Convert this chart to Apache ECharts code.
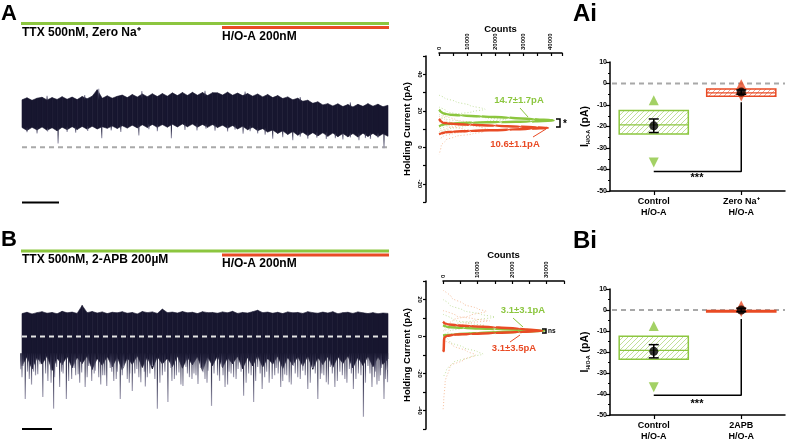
<!DOCTYPE html>
<html>
<head>
<meta charset="utf-8">
<title>H/O-A holding current</title>
<script src="https://cdn.jsdelivr.net/npm/echarts@6/dist/echarts.min.js"></script>
<style>
  html, body { margin: 0; padding: 0; background: #fff; }
  #fig { width: 787px; height: 442px; }
</style>
</head>
<body>
<div id="fig"></div>
<script>
// ---- trace A (pA), one value per column of the recording ----
const traceATop = [
  26.0, 27.1, 25.7, 26.9, 27.4, 25.9, 27.2, 26.2, 27.7, 26.3,
  27.5, 26.1, 27.8, 26.6, 28.0, 31.5, 26.8, 28.2, 26.9, 27.9,
  28.6, 27.2, 28.9, 27.5, 29.2, 27.7, 29.3, 27.8, 29.4, 28.0,
  29.8, 28.3, 30.0, 28.4, 30.1, 28.5, 30.0, 28.3, 29.9, 29.8,
  28.6, 30.2, 28.5, 29.7, 28.3, 29.4, 28.0, 29.2, 27.6, 28.9,
  27.2, 28.3, 26.7, 27.6, 26.0, 26.9, 25.2, 25.8, 24.1, 24.9,
  23.2, 23.9, 22.6, 23.8, 22.3, 23.4, 22.1, 23.5, 22.4, 23.9,
  22.5, 23.6, 22.2, 23.0
];
const traceABottom = [
  10.8, 9.2, 10.9, 9.5, 11.1, 9.3, 10.7, 9.0, 11.0, 9.6,
  11.3, 9.7, 11.4, 9.9, 11.5, 10.0, 11.2, 10.4, 11.6, 10.3,
  11.8, 10.5, 12.1, 10.6, 12.3, 10.8, 12.5, 10.9, 12.4, 11.0,
  12.6, 11.1, 12.8, 11.2, 12.7, 11.0, 12.5, 10.9, 12.4, 10.8,
  12.1, 10.4, 11.9, 10.0, 11.5, 9.6, 11.0, 9.1, 10.2, 8.3,
  9.5, 7.6, 9.0, 7.0, 8.6, 6.6, 8.2, 6.3, 8.0, 6.2,
  7.9, 6.0, 7.8, 5.8, 7.6, 5.7, 7.5, 5.6, 7.7, 5.9,
  7.6, 5.8, 7.4, 6.0
];
// [column, base, tip]
const traceASpikes = [
  [3.5, 11, 7.5], [7.7, 11, 2.0], [11.2, 11.5, 8.0], [16.4, 12, 4.9], [20.2, 12.5, 8.3],
  [23.8, 12.5, 6.5], [27.5, 13, 8.8], [30.3, 13, 4.9], [33, 13.5, 9.5], [35.4, 13.5, 9.2],
  [39, 13, 9.0], [41.5, 12.5, 8.6], [44.6, 12, 7.4], [47.5, 11, 7.5], [50.5, 10, 4.7],
  [52.5, 9.5, 5.5], [54.5, 9, 3.8], [57.5, 8.5, 4.6], [61.2, 8.5, 4.5], [64.5, 8, 4.2],
  [67.7, 8, 3.8], [70, 8, 4.5], [72.7, 8, -0.5],
  [1.5, 11, 8.2], [5.6, 11, 8.6], [9.5, 11.5, 8.4], [13.6, 12, 8.9], [18.3, 12, 9.2],
  [25.8, 13, 9.8], [37.2, 13, 10.2], [43, 12.5, 9.6], [46, 12, 8.8], [49, 10.5, 6.8],
  [56, 9, 5.8], [59.3, 8.5, 5.2], [63, 8, 5.0], [66, 8, 5.4], [69, 8, 5.0], [71.5, 8, 5.2],
  [15.8, 26, 32], [24.4, 27, 30.8], [5.5, 25.5, 28.2], [13, 26, 28.6], [37, 28, 31],
  [45, 28, 30.5], [56, 25, 27.6], [66, 22, 24.6]
];

// ---- trace B (pA) ----
const traceBTop = [
  12.4, 13.1, 12.2, 12.9, 13.4, 12.6, 13.0, 12.3, 13.6, 12.8,
  13.2, 12.5, 16.8, 12.9, 13.5, 12.7, 13.3, 12.4, 13.1, 12.8,
  13.4, 12.6, 13.0, 12.2, 13.5, 12.9, 13.3, 12.5, 14.8, 12.9,
  13.2, 12.7, 13.5, 12.8, 13.1, 12.4, 13.4, 12.9, 13.0, 12.6,
  13.3, 12.8, 13.6, 12.5, 13.0, 12.7, 13.4, 14.2, 12.9, 13.2,
  12.6, 13.1, 12.4, 13.3, 12.8, 13.0, 12.5, 13.4, 12.9, 12.6,
  13.2, 12.7, 13.4, 12.3, 12.9, 13.1, 12.5, 13.3, 12.8, 12.4,
  12.9, 12.3, 12.7, 12.5
];
const traceBBottom = [
  -15.8, -10.9, -17.6, -11.5, -14.9, -10.6, -18.3, -11.8, -15.2, -10.7,
  -16.9, -11.3, -14.6, -10.5, -17.8, -11.9, -15.5, -10.8, -16.4, -11.1,
  -18.0, -11.6, -15.0, -10.4, -16.7, -11.2, -17.5, -10.9, -14.8, -11.7,
  -16.2, -10.6, -17.1, -11.4, -15.3, -10.8, -18.6, -11.0, -15.7, -10.5,
  -16.8, -11.5, -14.7, -10.7, -17.4, -11.2, -15.9, -10.4, -16.5, -11.8,
  -14.9, -10.6, -17.2, -11.3, -15.4, -10.9, -16.0, -10.5, -17.7, -11.4,
  -15.1, -10.8, -16.6, -11.0, -14.5, -10.6, -17.0, -11.2, -15.6, -10.7,
  -16.3, -11.1, -15.0, -12.0
];
const traceBSpikes = [
  [0.26, -9, -17.7], [1.15, -9, -33.8], [1.96, -9, -23], [3.64, -9, -20.4], [4.65, -9, -32.7],
  [5.66, -9, -24], [6.8, -9, -39], [8.0, -9, -27.3], [9.35, -9, -33.8], [10.4, -9, -23],
  [11.7, -9, -20.4], [13.1, -9, -27.3], [14.4, -9, -24], [15.8, -9, -22], [17.4, -9, -26.8],
  [18.8, -9, -24], [20.1, -9, -33.8], [21.5, -9, -23], [22.5, -9, -29.5], [24.2, -9, -24.7],
  [25.5, -9, -22], [27.5, -9, -39], [29.6, -9, -35.4], [30.9, -9, -23], [32.6, -9, -26.8],
  [33.9, -9, -22], [35.6, -9, -25.7], [36.6, -9, -19.3], [37.0, -9, -23], [38.3, -9, -37.5],
  [41.0, -9, -27.3], [42.7, -9, -22], [44.7, -9, -32], [46.7, -9, -35.4], [48.4, -9, -28.4],
  [50.4, -9, -23], [52.1, -9, -27.3], [53.8, -9, -24.7], [55.5, -9, -22], [57.5, -9, -28.4],
  [59.5, -9, -33.8], [61.2, -9, -24.7], [62.9, -9, -27.3], [64.9, -9, -23], [66.6, -9, -28.4],
  [68.6, -9, -43.4], [70.3, -9, -27.3], [71.7, -9, -24], [72.7, -9, -33.8], [73.4, -9, -24.7],
  [0.7, -9, -16], [2.8, -9, -19], [4.1, -9, -15], [6.2, -9, -18], [7.4, -9, -16.5],
  [8.7, -9, -20], [10.9, -9, -17], [12.4, -9, -19.5], [13.8, -9, -16], [15.1, -9, -18.5],
  [16.6, -9, -21], [18.1, -9, -17], [19.5, -9, -19], [20.8, -9, -16.5], [22.0, -9, -20],
  [23.4, -9, -17.5], [24.9, -9, -19], [26.5, -9, -16], [28.5, -9, -21], [30.2, -9, -17],
  [31.8, -9, -19.5], [33.2, -9, -16.5], [34.8, -9, -20], [36.1, -9, -17], [37.6, -9, -18.5],
  [39.5, -9, -21], [40.3, -9, -16], [41.8, -9, -19], [43.6, -9, -17.5], [45.7, -9, -20],
  [47.5, -9, -16.5], [49.3, -9, -19], [51.2, -9, -17], [52.9, -9, -20.5], [54.6, -9, -16],
  [56.5, -9, -18.5], [58.5, -9, -17], [60.3, -9, -20], [62.0, -9, -16.5], [63.9, -9, -19],
  [65.8, -9, -17.5], [67.6, -9, -20], [69.5, -9, -16], [71.0, -9, -19], [72.2, -9, -17], [73.3, -9, -18],
  [0.5, -9, -22], [1.6, -9, -19], [2.4, -9, -26], [3.2, -9, -21], [5.2, -9, -20], [6.3, -9, -25],
  [7.0, -9, -22], [8.4, -9, -19], [9.8, -9, -24], [11.2, -9, -21], [12.0, -9, -25], [13.5, -9, -22],
  [14.9, -9, -20], [16.2, -9, -26], [17.0, -9, -21], [18.4, -9, -19], [19.3, -9, -23], [20.5, -9, -21],
  [21.9, -9, -25], [23.0, -9, -20], [23.8, -9, -22], [25.1, -9, -27], [26.0, -9, -20], [27.0, -9, -23],
  [28.0, -9, -25], [29.0, -9, -19], [30.4, -9, -24], [31.3, -9, -21], [32.2, -9, -26], [33.5, -9, -20],
  [34.4, -9, -23], [35.2, -9, -21], [37.4, -9, -25], [38.8, -9, -20], [39.9, -9, -24], [40.6, -9, -21],
  [41.5, -9, -26], [42.2, -9, -20], [43.2, -9, -23], [44.2, -9, -19], [45.2, -9, -25], [46.2, -9, -21],
  [47.1, -9, -24], [48.0, -9, -20], [48.9, -9, -22], [49.8, -9, -25], [50.9, -9, -21], [51.6, -9, -20],
  [52.5, -9, -24], [53.3, -9, -21], [54.2, -9, -26], [55.0, -9, -20], [56.0, -9, -23], [57.0, -9, -21],
  [58.0, -9, -25], [59.0, -9, -20], [60.0, -9, -23], [60.7, -9, -21], [61.6, -9, -26], [62.4, -9, -20],
  [63.4, -9, -24], [64.4, -9, -21], [65.3, -9, -25], [66.2, -9, -20], [67.1, -9, -23], [68.1, -9, -21],
  [69.0, -9, -25], [69.9, -9, -20], [70.8, -9, -22], [71.3, -9, -26], [72.0, -9, -21], [73.0, -9, -23]
];

// ---- holding-current histograms: [counts, pA] ----
const histAControl = [[0, 20.5], [400, 19.8], [1200, 18.8], [3000, 18.0], [8000, 17.4], [15000, 16.9],
  [25000, 16.2], [34000, 15.4], [41000, 14.7], [33000, 14.1], [22000, 13.8], [12000, 13.5],
  [5000, 13.1], [2000, 12.6], [700, 12.0], [0, 11.5]];
const histAHoa = [[0, 15.5], [400, 14.6], [1200, 13.6], [3000, 13.0], [11000, 12.3], [20000, 11.8],
  [29000, 11.3], [35000, 10.9], [39000, 10.6], [33000, 10.1], [25000, 9.7], [11000, 8.9],
  [5000, 8.5], [2000, 8.1], [700, 7.6], [0, 7.2]];
const histAControlCells = [
  [[0, 28.5], [2000, 27], [6000, 25], [11000, 23], [16500, 20.8], [12000, 19.5], [6000, 18], [2000, 16.5], [0, 15]],
  [[0, 22], [3000, 19.5], [9000, 17.5], [17000, 16], [24000, 15.2], [17000, 14.2], [8000, 13], [2500, 11.5], [0, 10]],
  [[0, 18], [2500, 15.5], [8000, 14], [13000, 12.6], [9000, 11.5], [3500, 10], [0, 8.5]]
];
const histAHoaCells = [
  [[0, 17], [2500, 14.5], [8000, 12.5], [15000, 11], [17500, 10], [11000, 8.8], [5000, 7.5], [1500, 6], [0, 4.5]],
  [[0, 14], [3000, 11.5], [9000, 9.8], [16000, 8.5], [12000, 7.3], [6000, 6], [2500, 4], [800, 1], [0, -4]],
  [[0, 20], [1500, 17.5], [6000, 15], [12000, 13.4], [8000, 12.2], [3000, 10.5], [0, 9]]
];
const histBControl = [[0, 6], [1000, 5.2], [6000, 4.6], [15000, 4.0], [24000, 3.5], [29500, 3.1],
  [22000, 2.6], [10000, 1.9], [3000, 1.2], [0, 0.5]];
const histBHoa = [[0, 8], [300, 7.3], [1200, 6.6], [4000, 6.0], [8000, 5.6], [15000, 5.0], [22000, 4.2],
  [28700, 3.1], [22000, 2.4], [15000, 1.9], [8000, 1.4], [3000, 0.9], [1000, 0.3], [400, -0.6],
  [300, -2], [250, -5], [200, -7.5], [0, -8.2]];
const histBControlCells = [
  [[0, 20], [2000, 17], [6000, 14], [11000, 12], [15000, 10.5], [10000, 9], [4000, 7], [1000, 5], [0, 3]],
  [[0, 1], [2000, -3], [6000, -6], [10000, -8.3], [11600, -9.5], [8000, -11], [3000, -14], [1000, -18], [0, -22]],
  [[0, 12], [3000, 9], [8000, 7], [12000, 6], [7000, 5], [2000, 3], [0, 1]]
];
const histBHoaCells = [
  [[0, 25], [2500, 21], [6000, 17.5], [10000, 15], [12500, 13.6], [8000, 11.5], [3000, 9], [0, 6]],
  [[0, -2], [3000, -5], [7000, -8], [9500, -10], [6000, -12.5], [2000, -16], [600, -25], [200, -35], [0, -40]],
  [[0, 14], [4000, 11], [9000, 9.5], [13500, 8.5], [8000, 7.5], [3000, 5.5], [0, 3]]
];

// ---- I H/O-A summaries (pA) ----
const catsAi = ['Control\nH/O-A', 'Zero Na\u207A\nH/O-A'];
const catsBi = ['Control\nH/O-A', '2APB\nH/O-A'];
const boxAi = [[-12.5, -23.5, -19.2], [-2.6, -5.9, -4.4]];   // upper, lower, median
const boxBi = [[-12.5, -23.5, -19.2], [-0.2, -0.9, -0.5]];
const meanAi = [-19.7, -4.0];
const semAi = [[-16.5, -22.8], [-3.0, -5.0]];
const maxAi = [-7.8, -0.4];
const minAi = [-36.8, -6.1];
const meanBi = [-19.7, 0];
const semBi = [[-16.5, -22.8], [0.8, -0.8]];
const maxBi = [-7.6, 2.2];
const minBi = [-36.8, -0.9];
const sigAi = [-40.9, -8.7];
const sigBi = [-40.6, -4.3];

const FONT = '"Liberation Sans", Arial, sans-serif';
const GREEN = '#8cc63f';
const RED = '#e94b25';
const GREEN_DOT = '#c6e2a2';
const RED_DOT = '#f6c09e';
const NAVY = '#17162f';

const chart = echarts.init(document.getElementById('fig'));

function hatch(color) {
  const c = document.createElement('canvas');
  c.width = 5; c.height = 5;
  const g = c.getContext('2d');
  g.strokeStyle = color; g.globalAlpha = 0.6; g.lineWidth = 0.9;
  g.beginPath();
  g.moveTo(0, 5); g.lineTo(5, 0);
  g.moveTo(-1, 1); g.lineTo(1, -1);
  g.moveTo(4, 6); g.lineTo(6, 4);
  g.stroke();
  return { image: c, repeat: 'repeat' };
}

function bandSeries(i, top, bottom) {
  return {
    type: 'custom', xAxisIndex: i, yAxisIndex: i, z: 2, silent: true,
    data: top.map((t, k) => [k, bottom[k], t]),
    renderItem(params, api) {
      const k = api.value(0);
      if (k >= top.length - 1) return null;
      const pts = [
        api.coord([k + 0.5, bottom[k]]), api.coord([k + 0.5, top[k]]),
        api.coord([k + 1.5, top[k + 1]]), api.coord([k + 1.5, bottom[k + 1]])
      ];
      return { type: 'polygon', shape: { points: pts }, style: { fill: NAVY, stroke: NAVY, lineWidth: 0.6 } };
    }
  };
}

function spikeSeries(i, spikes) {
  return {
    type: 'custom', xAxisIndex: i, yAxisIndex: i, z: 3, silent: true,
    data: spikes,
    renderItem(params, api) {
      const a = api.coord([api.value(0), api.value(1)]);
      const b = api.coord([api.value(0), api.value(2)]);
      return {
        type: 'line', shape: { x1: a[0], y1: a[1], x2: b[0], y2: b[1] },
        style: {
          stroke: new echarts.graphic.LinearGradient(a[0], a[1], b[0], b[1],
            [{ offset: 0, color: '#1b1a33' }, { offset: 0.45, color: '#3c3b56' }, { offset: 1, color: '#a3a1b5' }], true),
          lineWidth: 1.2
        }
      };
    }
  };
}

function zeroLine(i, color, z) {
  return {
    type: 'line', xAxisIndex: i, yAxisIndex: i, z, silent: true, symbol: 'none',
    data: [[0.5, 0], [73.5, 0]],
    lineStyle: { color, width: 2, type: [5, 4] }
  };
}

function histLine(i, data, color, width, dotted, z) {
  return {
    type: 'line', xAxisIndex: i, yAxisIndex: i, z, silent: true, symbol: 'none',
    smooth: 0.3, smoothMonotone: 'y', data,
    lineStyle: { color, width, type: dotted ? [1, 2] : 'solid' }
  };
}

function boxSeries(i, boxes, colors) {
  return {
    type: 'custom', xAxisIndex: i, yAxisIndex: i, z: 2, silent: true,
    data: boxes.map((b, k) => [k, b[0], b[1], b[2]]),
    renderItem(params, api) {
      const k = api.value(0);
      const bw = api.size([1, 0])[0] * 0.79;
      const p1 = api.coord([k, api.value(1)]);
      const p2 = api.coord([k, api.value(2)]);
      const pm = api.coord([k, api.value(3)]);
      const x = p1[0] - bw / 2;
      const col = colors[k];
      return {
        type: 'group', children: [
          { type: 'rect', shape: { x, y: p1[1], width: bw, height: p2[1] - p1[1] },
            style: { fill: hatch(col), stroke: col, lineWidth: 1.5 } },
          { type: 'line', shape: { x1: x, y1: pm[1], x2: x + bw, y2: pm[1] },
            style: { stroke: col, lineWidth: 1.2 } }
        ]
      };
    }
  };
}

// dashed reference line at 0 pA across the whole plot area
function zeroRef(i) {
  return {
    type: 'custom', xAxisIndex: i, yAxisIndex: i, z: 1, silent: true,
    data: [[0, 0]],
    renderItem(params, api) {
      const cs = params.coordSys;
      const y = api.coord([0, api.value(1)])[1];
      return { type: 'line', shape: { x1: cs.x + 2, y1: y, x2: cs.x + cs.width, y2: y },
        style: { stroke: '#a8a8a8', lineWidth: 2, lineDash: [5, 4] } };
    }
  };
}

function errSeries(i, sem) {
  return {
    type: 'custom', xAxisIndex: i, yAxisIndex: i, z: 5, silent: true,
    data: sem.map((s, k) => [k, s[0], s[1]]),
    renderItem(params, api) {
      const k = api.value(0);
      const a = api.coord([k, api.value(1)]);
      const b = api.coord([k, api.value(2)]);
      const st = { stroke: '#000', lineWidth: 1.5 };
      return {
        type: 'group', children: [
          { type: 'line', shape: { x1: a[0], y1: a[1], x2: b[0], y2: b[1] }, style: st },
          { type: 'line', shape: { x1: a[0] - 5, y1: a[1], x2: a[0] + 5, y2: a[1] }, style: st },
          { type: 'line', shape: { x1: b[0] - 5, y1: b[1], x2: b[0] + 5, y2: b[1] }, style: st }
        ]
      };
    }
  };
}

function statSeries(i, boxes, mean, sem, mx, mn, sig) {
  const cols = [GREEN, RED];
  return [
    zeroRef(i),
    {
      type: 'line', xAxisIndex: i, yAxisIndex: i, z: 3, silent: true, symbol: 'none',
      data: [[0, sig[0]], [1, sig[0]], [1, sig[1]]],
      lineStyle: { color: '#000', width: 1.5 }
    },
    boxSeries(i, boxes, cols),
    {
      type: 'scatter', xAxisIndex: i, yAxisIndex: i, z: 4, silent: true,
      symbol: 'triangle', symbolSize: 10,
      data: mx.map((v, k) => ({ value: [k, v], itemStyle: { color: cols[k] } }))
    },
    {
      type: 'scatter', xAxisIndex: i, yAxisIndex: i, z: 4, silent: true,
      symbol: 'triangle', symbolSize: 10, symbolRotate: 180,
      data: mn.map((v, k) => ({ value: [k, v], itemStyle: { color: cols[k] } }))
    },
    errSeries(i, sem),
    {
      type: 'scatter', xAxisIndex: i, yAxisIndex: i, z: 6, silent: true,
      symbol: 'circle', symbolSize: 9, itemStyle: { color: '#000' },
      data: mean.map((v, k) => [k, v])
    }
  ];
}

const blackLine = { show: true, onZero: false, lineStyle: { color: '#000', width: 1.5 } };

function traceAxes(gi, min, max) {
  return [
    { gridIndex: gi, type: 'value', min: 0.5, max: 73.5, show: false },
    { gridIndex: gi, type: 'value', min, max, show: false }
  ];
}
function histX(gi, max, offset, gap) {
  return {
    gridIndex: gi, type: 'value', position: 'top', min: 0, max, interval: 10000, offset,
    name: 'Counts', nameLocation: 'middle', nameGap: gap, nameMoveOverlap: false,
    nameTextStyle: { fontSize: 9.5, fontWeight: 'bold', color: '#000' },
    axisLine: blackLine,
    axisTick: { show: true, inside: true, length: 3, lineStyle: { width: 1.2 } },
    minorTick: { show: true, splitNumber: 2, length: 3, lineStyle: { color: '#000', width: 1.2 } },
    axisLabel: { rotate: -90, fontSize: 6, fontWeight: 'bold', color: '#000', margin: 3,
      showMaxLabel: false,
      formatter: v => (v % 10000 === 0 ? String(v) : '') },
    splitLine: { show: false }, minorSplitLine: { show: false }
  };
}
function histY(gi, min, max, offset) {
  return {
    gridIndex: gi, type: 'value', min, max, interval: 10, offset,
    name: 'Holding Current (pA)', nameLocation: 'middle', nameGap: 14, nameRotate: 90,
    nameTextStyle: { fontSize: 9.5, fontWeight: 'bold', color: '#000' },
    axisLine: blackLine,
    axisTick: { show: true, length: 3, lineStyle: { width: 1.2 } },
    axisLabel: { rotate: -90, fontSize: 6, fontWeight: 'bold', color: '#000', margin: 3,
      formatter: v => (v % 20 === 0 ? String(v) : '') },
    splitLine: { show: false }
  };
}
function statX(gi, cats) {
  return {
    gridIndex: gi, type: 'category', data: cats,
    axisLine: blackLine,
    axisTick: { show: true, alignWithLabel: true, length: 4, lineStyle: { width: 1.2 } },
    axisLabel: { fontSize: 9, fontWeight: 'bold', color: '#000', margin: 5, lineHeight: 11, interval: 0 }
  };
}
function statY(gi) {
  return {
    gridIndex: gi, type: 'value', min: -50, max: 10, interval: 10,
    name: '{i|I}{s|H/O-A}{p| (pA)}', nameLocation: 'middle', nameGap: 19, nameRotate: 90,
    nameTextStyle: {
      rich: {
        i: { fontSize: 10.5, fontWeight: 'bold', color: '#000', lineHeight: 12 },
        s: { fontSize: 5, fontWeight: 'bold', color: '#000', verticalAlign: 'bottom', lineHeight: 12 },
        p: { fontSize: 10.5, fontWeight: 'bold', color: '#000', lineHeight: 12 }
      }
    },
    axisLine: blackLine,
    axisTick: { show: true, length: 4, lineStyle: { width: 1.2 } },
    minorTick: { show: true, splitNumber: 2, length: 2, lineStyle: { color: '#000' } },
    axisLabel: { fontSize: 7, fontWeight: 'bold', color: '#000', margin: 3 },
    splitLine: { show: false }, minorSplitLine: { show: false }
  };
}

function txt(x, y, text, size, color, align, vAlign) {
  return {
    type: 'text', x, y, silent: true, z: 10,
    style: { text, fill: color || '#000', font: 'bold ' + size + 'px ' + FONT,
      align: align || 'left', verticalAlign: vAlign || 'middle' }
  };
}
function seg(x1, y1, x2, y2, color, w) {
  return { type: 'line', silent: true, z: 10, shape: { x1, y1, x2, y2 }, style: { stroke: color, lineWidth: w } };
}
function bracket(x1, y1, x2, y2) {
  return { type: 'polyline', silent: true, z: 10,
    shape: { points: [[x1, y1], [x2, y1], [x2, y2], [x1, y2]] },
    style: { stroke: '#000', lineWidth: 1.5, fill: null } };
}

const [xa0, ya0] = traceAxes(0, -30, 50);
const [xa3, ya3] = traceAxes(3, -50, 30);

chart.setOption({
  animation: false,
  backgroundColor: '#fff',
  textStyle: { fontFamily: FONT },
  grid: [
    { left: 22, top: 56, width: 366, height: 146 },
    { left: 439, top: 56, width: 123, height: 146 },
    { left: 610, top: 62, width: 175, height: 129 },
    { left: 22, top: 281, width: 366, height: 148 },
    { left: 443, top: 281, width: 121, height: 148 },
    { left: 610, top: 289, width: 175, height: 128 }
  ],
  xAxis: [xa0, histX(1, 44000, 3, 19), statX(2, catsAi), xa3, histX(4, 35000, 0, 21), statX(5, catsBi)],
  yAxis: [ya0, histY(1, -30, 50, 13), statY(2), ya3, histY(4, -50, 30, 17), statY(5)],
  series: [
    zeroLine(0, '#a9a9a9', 1),
    bandSeries(0, traceATop, traceABottom),
    spikeSeries(0, traceASpikes),
    bandSeries(3, traceBTop, traceBBottom),
    spikeSeries(3, traceBSpikes),
    zeroLine(3, '#e4e4e4', 6),
    ...histAControlCells.map(d => histLine(1, d, GREEN_DOT, 1, true, 2)),
    ...histAHoaCells.map(d => histLine(1, d, RED_DOT, 1, true, 2)),
    histLine(1, histAControl, GREEN, 2.5, false, 3),
    histLine(1, histAHoa, RED, 2.5, false, 4),
    ...histBControlCells.map(d => histLine(4, d, GREEN_DOT, 1, true, 2)),
    ...histBHoaCells.map(d => histLine(4, d, RED_DOT, 1, true, 2)),
    histLine(4, histBControl, GREEN, 2.5, false, 3),
    histLine(4, histBHoa, RED, 2.5, false, 4),
    ...statSeries(2, boxAi, meanAi, semAi, maxAi, minAi, sigAi),
    ...statSeries(5, boxBi, meanBi, semBi, maxBi, minBi, sigBi)
  ],
  graphic: [
    txt(1, 14, 'A', 22), txt(1, 240, 'B', 22),
    txt(573, 14, 'Ai', 24), txt(573, 241, 'Bi', 24),
    // drug application bars
    seg(21, 23.5, 389, 23.5, GREEN, 3), seg(222, 27.5, 389, 27.5, RED, 3),
    txt(22, 33, 'TTX 500nM, Zero Na\u207A', 12), txt(222, 37, 'H/O-A 200nM', 12),
    seg(21, 251, 389, 251, GREEN, 3), seg(222, 255, 389, 255, RED, 3),
    txt(22, 260, 'TTX 500nM, 2-APB 200\u00B5M', 12), txt(222, 264, 'H/O-A 200nM', 12),
    // scale bars
    seg(22, 202.5, 59, 202.5, '#000', 2), seg(22, 429, 52, 429, '#000', 2),
    // histogram annotations
    txt(519, 100, '14.7\u00B11.7pA', 9.5, GREEN, 'center'),
    seg(520, 108, 528, 117, GREEN, 1),
    txt(515, 144, '10.6\u00B11.1pA', 9.5, RED, 'center'),
    seg(533, 137, 546, 129, RED, 1),
    bracket(556, 119, 560, 127), txt(563, 124, '*', 10),
    txt(523, 310.5, '3.1\u00B13.1pA', 9.5, GREEN, 'center'),
    seg(513, 318, 523, 327, GREEN, 1),
    txt(514, 348.5, '3.1\u00B13.5pA', 9.5, RED, 'center'),
    seg(510, 342, 520, 335, RED, 1),
    bracket(542, 329, 546, 333), txt(548, 331, 'ns', 6.5),
    // significance
    txt(697, 178, '***', 11, '#000', 'center'),
    txt(697, 404, '***', 11, '#000', 'center')
  ]
});
</script>
</body>
</html>
